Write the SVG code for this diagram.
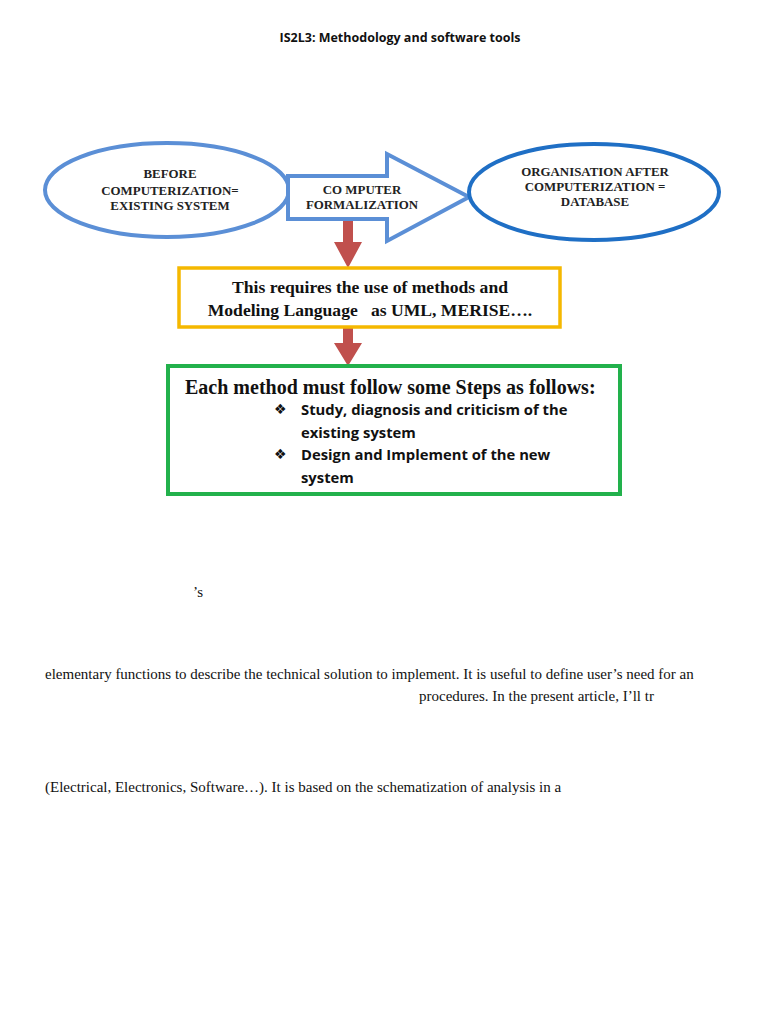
<svg xmlns="http://www.w3.org/2000/svg" width="768" height="1024" viewBox="0 0 768 1024">
<style>
.nodeText{font-family:"Liberation Serif",serif;font-weight:bold;font-size:12.9px;fill:#222;text-anchor:middle}
.boxText{font-family:"Liberation Serif",serif;font-weight:bold;font-size:17.6px;fill:#111;text-anchor:middle}
.head{font-family:"Liberation Serif",serif;font-weight:bold;font-size:20px;fill:#111}
.bul{font-family:"Open Sans","Liberation Sans",sans-serif;font-weight:bold;font-size:14.8px;fill:#111}
.sym{font-family:"DejaVu Sans",sans-serif;font-size:14px;fill:#111}
.body{font-family:"Liberation Serif",serif;font-size:15px;fill:#111}
.title{font-family:"Open Sans","Liberation Sans",sans-serif;font-weight:bold;font-size:12.5px;fill:#111;text-anchor:middle}
.red{fill:#c0504d}
</style>
<rect width="768" height="1024" fill="#fff"/>
<text class="title" x="400" y="42">IS2L3: Methodology and software tools</text>
<g id="connectors">
<path class="red" d="M343,218 H353 V242 H362 L348,268 L334,242 H343 Z"/>
<path class="red" d="M343,327 H353 V343 H362 L348,366 L334,343 H343 Z"/>
</g>
<g id="before">
<ellipse cx="167" cy="190" rx="122" ry="47" fill="#fff" stroke="#5b8fd6" stroke-width="4"/>
<text class="nodeText" x="170" y="178">BEFORE</text>
<text class="nodeText" x="170" y="195">COMPUTERIZATION=</text>
<text class="nodeText" x="170" y="210">EXISTING SYSTEM</text>
</g>
<g id="formalization">
<path d="M288,176 H387 V154 L469,197 L387,241 V219 H288 Z" fill="#fff" stroke="#5b8fd6" stroke-width="4" stroke-linejoin="miter"/>
<text class="nodeText" x="362" y="194">CO MPUTER</text>
<text class="nodeText" x="362" y="209">FORMALIZATION</text>
</g>
<g id="after">
<ellipse cx="594" cy="192" rx="125" ry="48" fill="#fff" stroke="#1f6fc5" stroke-width="4"/>
<text class="nodeText" x="595" y="176">ORGANISATION AFTER</text>
<text class="nodeText" x="595" y="191">COMPUTERIZATION =</text>
<text class="nodeText" x="595" y="206">DATABASE</text>
</g>
<g id="requires">
<rect x="179" y="268" width="381" height="59" fill="#fff" stroke="#f5b800" stroke-width="3.5"/>
<text class="boxText" x="370" y="293">This requires the use of methods and</text>
<text class="boxText" x="370" y="316" xml:space="preserve">Modeling Language   as UML, MERISE….</text>
</g>
<g id="steps">
<rect x="168" y="366" width="452" height="128" fill="#fff" stroke="#22b14c" stroke-width="4"/>
<text class="head" x="185" y="394">Each method must follow some Steps as follows:</text>
<text class="sym" x="274" y="414">❖</text>
<text class="bul" x="301" y="415">Study, diagnosis and criticism of the</text>
<text class="bul" x="301" y="438">existing system</text>
<text class="sym" x="274" y="459">❖</text>
<text class="bul" x="301" y="460">Design and Implement of the new</text>
<text class="bul" x="301" y="483">system</text>
</g>
<text class="body" x="193" y="597">’s</text>
<text class="body" x="45" y="679">elementary functions to describe the technical solution to implement. It is useful to define user’s need for an</text>
<text class="body" x="419" y="701">procedures. In the present article, I’ll tr</text>
<text class="body" x="45" y="792">(Electrical, Electronics, Software…). It is based on the schematization of analysis in a</text>
</svg>
